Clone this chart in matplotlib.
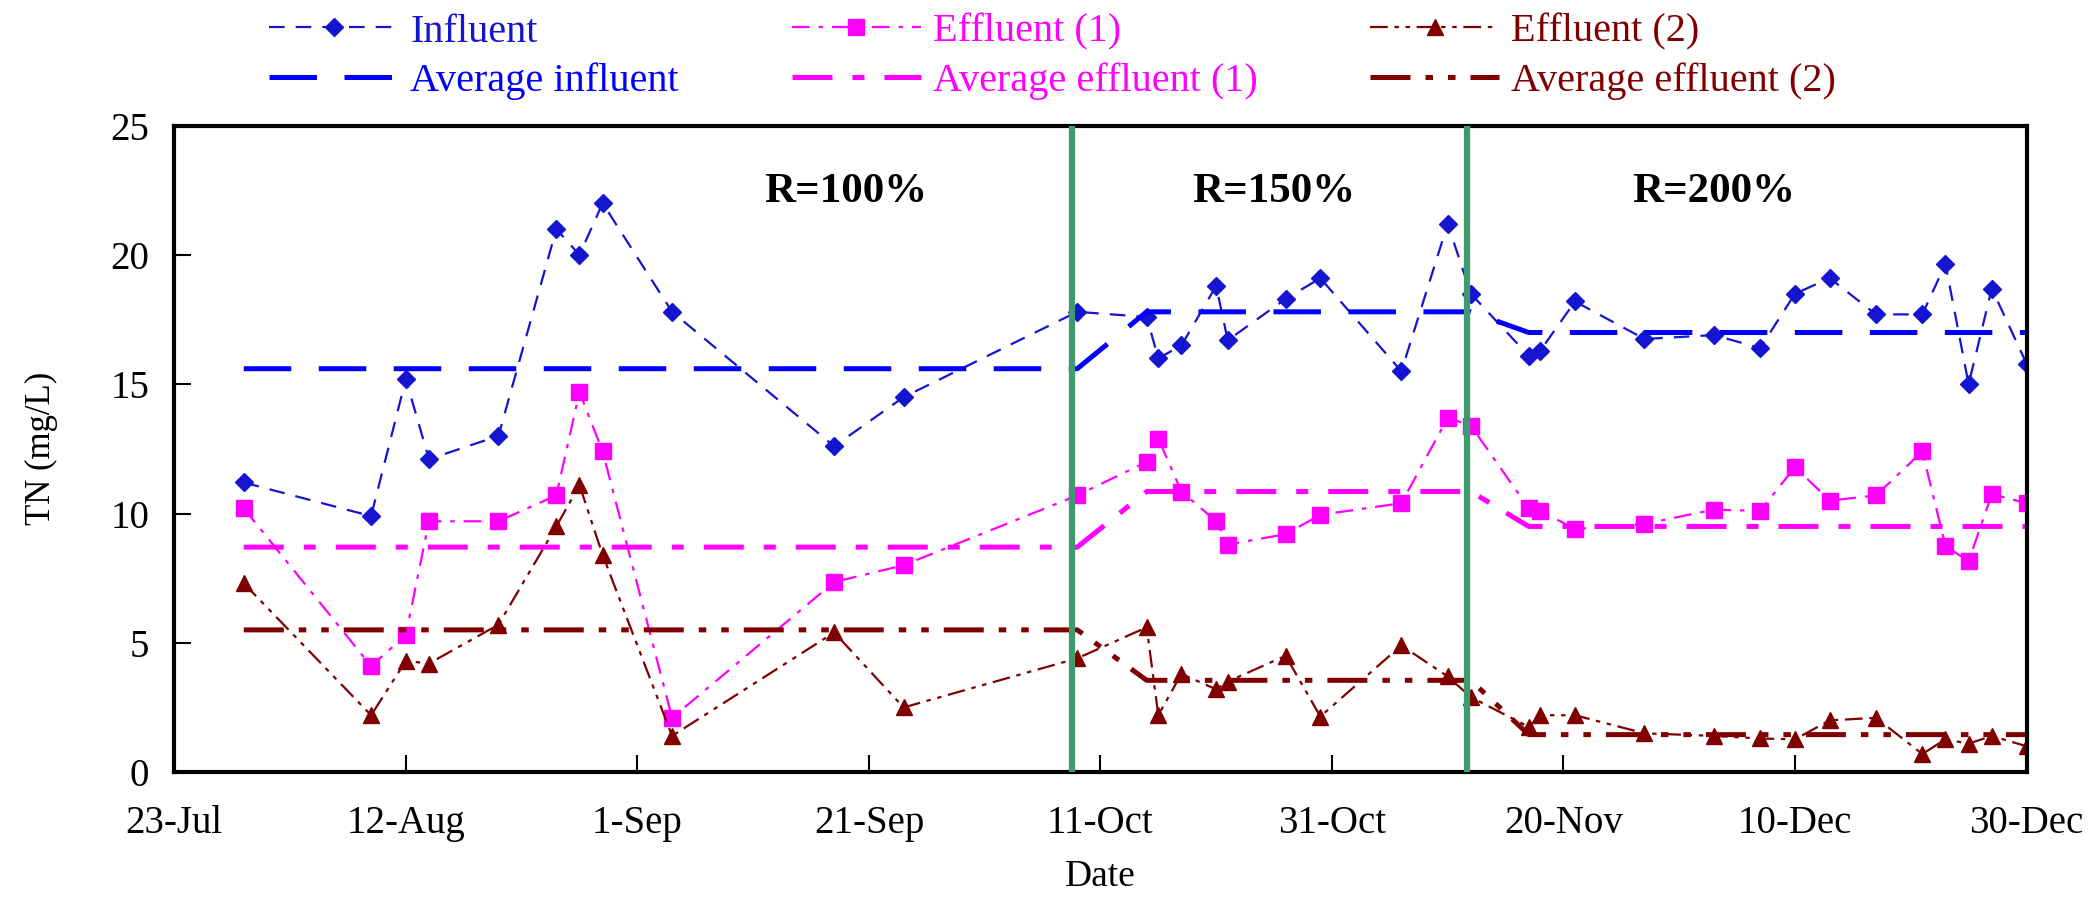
import pandas as pd
import matplotlib
matplotlib.use("Agg")
import matplotlib.pyplot as plt
import matplotlib.dates as mdates
import numpy as np

plt.rcParams["font.family"] = ["Liberation Serif", "DejaVu Serif"]

# sampling dates
dates = ["2010-07-29", "2010-08-09", "2010-08-12", "2010-08-14", "2010-08-20",
         "2010-08-25", "2010-08-27", "2010-08-29", "2010-09-04", "2010-09-18",
         "2010-09-24", "2010-10-09", "2010-10-15", "2010-10-16", "2010-10-18",
         "2010-10-21", "2010-10-22", "2010-10-27", "2010-10-30", "2010-11-06",
         "2010-11-10", "2010-11-12", "2010-11-17", "2010-11-18", "2010-11-21",
         "2010-11-27", "2010-12-03", "2010-12-07", "2010-12-10", "2010-12-13",
         "2010-12-17", "2010-12-21", "2010-12-23", "2010-12-25", "2010-12-27",
         "2010-12-30"]

influent = [11.2, 9.9, 15.2, 12.1, 13.0, 21.0, 20.0, 22.0, 17.8, 12.6,
            14.5, 17.8, 17.6, 16.0, 16.5, 18.8, 16.7, 18.3, 19.1, 15.5,
            21.2, 18.5, 16.1, 16.3, 18.2, 16.75, 16.9, 16.4, 18.5, 19.1,
            17.7, 17.7, 19.65, 15.0, 18.7, 15.8]
effluent1 = [10.2, 4.1, 5.3, 9.7, 9.7, 10.7, 14.7, 12.4, 2.1, 7.35,
             8.0, 10.7, 12.0, 12.9, 10.85, 9.7, 8.8, 9.2, 9.95, 10.4,
             13.7, 13.4, 10.2, 10.1, 9.4, 9.6, 10.15, 10.1, 11.8, 10.5,
             10.7, 12.4, 8.75, 8.15, 10.75, 10.4]
effluent2 = [7.3, 2.2, 4.3, 4.2, 5.7, 9.5, 11.1, 8.4, 1.4, 5.4,
             2.5, 4.4, 5.6, 2.2, 3.8, 3.2, 3.5, 4.5, 2.15, 4.9,
             3.7, 2.9, 1.75, 2.2, 2.2, 1.5, 1.4, 1.3, 1.27, 2.0,
             2.1, 0.7, 1.27, 1.1, 1.4, 1.0]

# averages per recycle-ratio period and number of samples in each period
period_counts = [12, 10, 14]
avg_influent = [15.6, 17.8, 17.0]
avg_effluent1 = [8.7, 10.85, 9.5]
avg_effluent2 = [5.5, 3.55, 1.45]

period_labels = ["R=100%", "R=150%", "R=200%"]
period_label_dates = ["2010-09-19", "2010-10-26", "2010-12-03"]
period_bounds = ["2010-10-08 14:00", "2010-11-11 17:00"]

x = pd.to_datetime(dates)

fig = plt.figure(figsize=(21, 9.17), dpi=100)
ax = fig.add_axes([0.083, 0.158, 0.882, 0.705])

blue = "#1515d0"
blue2 = "#0000ff"
magenta = "#ff00ff"
darkred = "#800000"

l1, = ax.plot(x, influent, color=blue, lw=1.6, dashes=(7, 5), marker="D",
              ms=9, label="Influent")
l2, = ax.plot(x, effluent1, color=magenta, lw=1.6, dashes=(8, 4, 2, 4), marker="s",
              ms=11, label="Effluent (1)")
l3, = ax.plot(x, effluent2, color=darkred, lw=1.6, dashes=(8, 3, 2, 3, 2, 3),
              marker="^", ms=11, label="Effluent (2)")
l4, = ax.plot(x, np.repeat(avg_influent, period_counts), color=blue2, lw=3.6,
              dashes=(9.5, 5.5), label="Average influent")
l5, = ax.plot(x, np.repeat(avg_effluent1, period_counts), color=magenta, lw=3.6,
              dashes=(8, 4, 2.4, 4), label="Average effluent (1)")
l6, = ax.plot(x, np.repeat(avg_effluent2, period_counts), color=darkred, lw=3.6,
              dashes=(8, 3, 1.5, 3, 1.5, 3), label="Average effluent (2)")

for b in period_bounds:
    ax.axvline(pd.Timestamp(b), color="#3f9a6e", lw=4.5, zorder=5)

for lab, d in zip(period_labels, period_label_dates):
    ax.text(pd.Timestamp(d), 22.45, lab, fontsize=31, fontweight="bold",
            ha="center", va="center")

ax.set_xlim(pd.Timestamp("2010-07-23"), pd.Timestamp("2010-12-30"))
ax.set_ylim(0, 25)
ax.set_xticks(pd.date_range("2010-07-23", "2010-12-30", freq="20D"))
ax.xaxis.set_major_formatter(mdates.DateFormatter("%-d-%b"))
ax.set_yticks([0, 5, 10, 15, 20, 25])
ax.tick_params(direction="in", length=12, width=1.5, labelsize=28)
ax.tick_params(axis="x", pad=24)
ax.tick_params(axis="y", pad=18)
for s in ax.spines.values():
    s.set_linewidth(3)

ax.set_xlabel("Date", fontsize=27, labelpad=12)
ax.set_ylabel("TN (mg/L)", fontsize=25, labelpad=38)

handles = [l1, l4, l2, l5, l3, l6]
leg = fig.legend(handles, [h.get_label() for h in handles],
                 ncol=3, loc="upper left", bbox_to_anchor=(0.111, 1.025),
                 frameon=False, fontsize=29, handlelength=3.2,
                 columnspacing=2.8, labelspacing=0.3, handletextpad=0.3)
for t, h in zip(leg.get_texts(), handles):
    t.set_color(h.get_color())

fig.savefig("out.png", dpi=100)
